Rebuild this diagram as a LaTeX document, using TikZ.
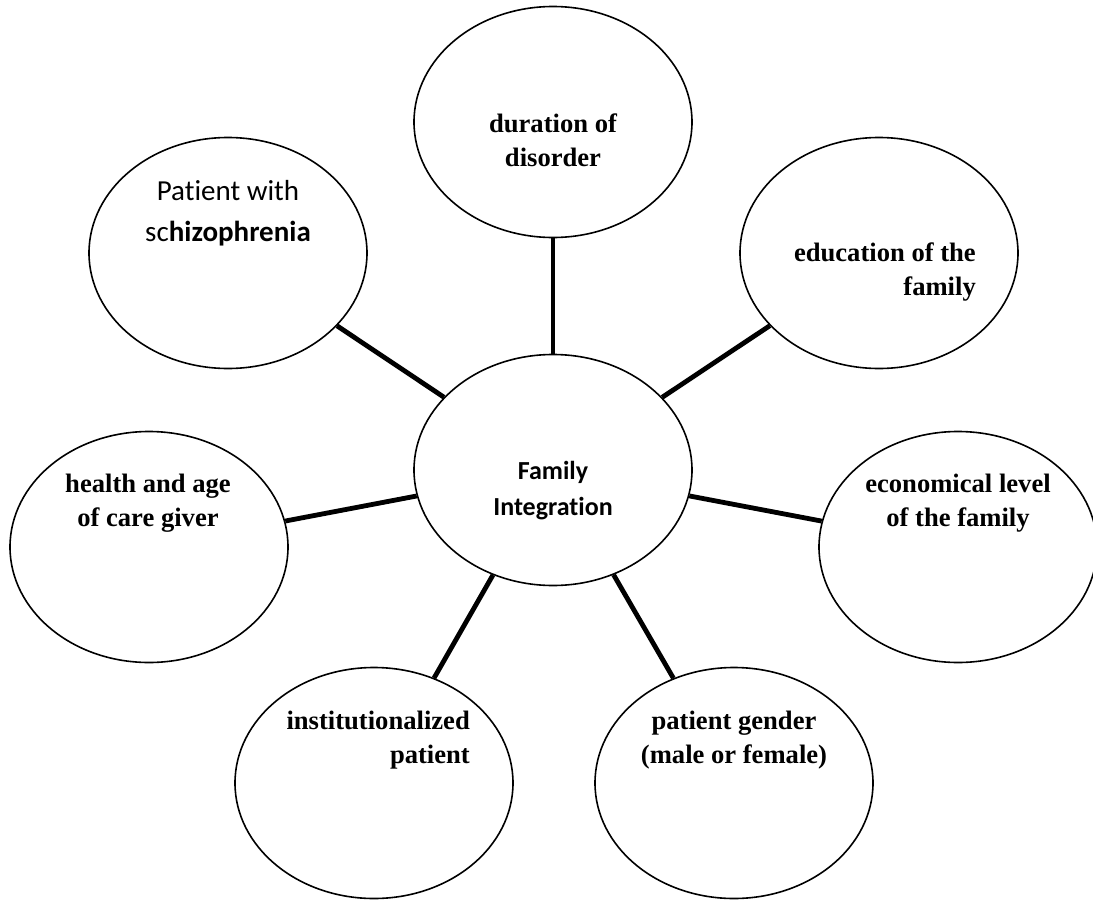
\documentclass[tikz,border=0pt]{standalone}
\usepackage{fontspec}
\setmainfont{Liberation Serif}
\newfontfamily\calibri[Ligatures=NoCommon]{Carlito}
\usetikzlibrary{shapes.geometric}

\begin{document}
\begin{tikzpicture}[x=1pt, y=-1pt,
  bubble/.style={ellipse, draw, line width=1.6pt, minimum width=278pt, minimum height=231pt, inner sep=0pt},
  link/.style={line width=4.8pt},
  tnr/.style={font=\bfseries\fontsize{26.6}{34}\selectfont, inner sep=0pt},
  cal/.style={font=\calibri\fontsize{29}{41}\selectfont, inner sep=0pt}]
  \useasboundingbox (0,0) rectangle (1093,900);

  \node[bubble] (fam) at (553,470) {};
  \node[bubble] (dur) at (553,122) {};
  \node[bubble] (pat) at (228,253) {};
  \node[bubble] (edu) at (879,253) {};
  \node[bubble] (hea) at (149,547) {};
  \node[bubble] (eco) at (958,547) {};
  \node[bubble] (ins) at (374,783) {};
  \node[bubble] (gen) at (734,783) {};

  \node[cal, font=\calibri\bfseries\fontsize{26}{36}\selectfont, align=center] (famtxt) at (553,491) {Family\\Integration};
  \node[tnr, align=center] (durtxt) at (553,140) {duration of\\disorder};
  \node[cal, align=center] (pattxt) at (228,213) {Patient with\\sc\textbf{hizophrenia}};
  \node[tnr, align=right, anchor=east] (edutxt) at (976,272) {education of the\\family};
  \node[tnr, align=center] (heatxt) at (148,503) {health and age\\of care giver};
  \node[tnr, align=center] (ecotxt) at (958,503) {economical level\\of the family};
  \node[tnr, align=right, anchor=east] (instxt) at (470,740) {institutionalized\\patient};
  \node[tnr, align=center] (gentxt) at (734,740) {patient gender\\(male or female)};

  \draw[link] (fam) -- (dur);
  \draw[link] (fam) -- (pat);
  \draw[link] (fam) -- (edu);
  \draw[link] (fam) -- (hea);
  \draw[link] (fam) -- (eco);
  \draw[link] (fam) -- (ins);
  \draw[link] (fam) -- (gen);
\end{tikzpicture}
\end{document}
